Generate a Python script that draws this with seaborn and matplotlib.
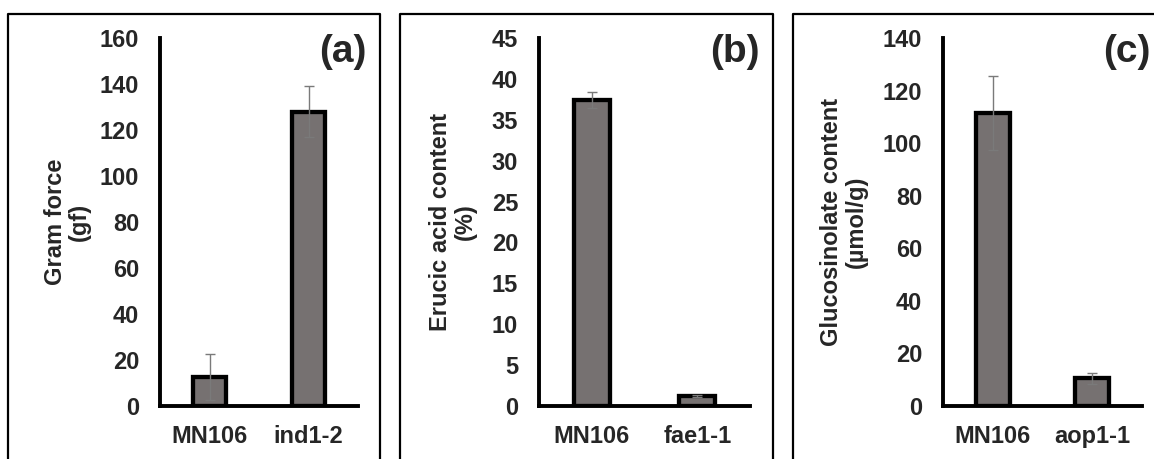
import pandas as pd
import matplotlib.pyplot as plt
import seaborn as sns
from matplotlib.lines import Line2D

sns.set_theme(style="white")
plt.rcParams['font.family'] = ['Liberation Sans', 'DejaVu Sans']

# data
lines_a = ["MN106", "ind1-2"]
force_gf = [12.5, 128.0]
force_err = [10.0, 11.0]

lines_b = ["MN106", "fae1-1"]
erucic_pct = [37.4, 1.2]
erucic_err = [1.0, 0.1]

lines_c = ["MN106", "aop1-1"]
gluc_umol = [111.5, 10.5]
gluc_err = [14.0, 2.2]

panels = [
    dict(names=lines_a, vals=force_gf, err=force_err, ylim=160, step=20,
         ylabel="Gram force\n(gf)", tag="(a)", ax_px=(160, 358), box_px=(8, 380), lpad=6),
    dict(names=lines_b, vals=erucic_pct, err=erucic_err, ylim=45, step=5,
         ylabel="Erucic acid content\n(%)", tag="(b)", ax_px=(539, 750), box_px=(400, 773), lpad=11),
    dict(names=lines_c, vals=gluc_umol, err=gluc_err, ylim=140, step=20,
         ylabel="Glucosinolate content\n(\u00b5mol/g)", tag="(c)", ax_px=(943, 1142), box_px=(793, 1170), lpad=11),
]

W, H = 1154, 459
fig = plt.figure(figsize=(W / 100, H / 100), dpi=100)

bar_color = "#767171"
fs = 17
for p in panels:
    x0, x1 = p['ax_px']
    ax = fig.add_axes([x0 / W, 1 - 406 / H, (x1 - x0) / W, (406 - 38) / H])
    df = pd.DataFrame({'line': p['names'], 'value': p['vals']})
    sns.barplot(data=df, x='line', y='value', ax=ax, color=bar_color, width=0.34,
                edgecolor='black', linewidth=3.1, saturation=1, errorbar=None)
    ax.errorbar(range(len(p['vals'])), p['vals'], yerr=p['err'], fmt='none',
                ecolor='#7a7a7a', elinewidth=1.0, capsize=3.5, capthick=1.0, zorder=5)
    ax.set_xlim(-0.5, 1.5)
    ax.set_ylim(0, p['ylim'])
    ax.set_yticks(range(0, p['ylim'] + 1, p['step']))
    ax.tick_params(axis='both', length=0, labelsize=fs)
    ax.tick_params(axis='x', pad=14)
    ax.tick_params(axis='y', pad=15)
    for lbl in ax.get_xticklabels() + ax.get_yticklabels():
        lbl.set_fontweight('bold')
    ax.set_xlabel("")
    ax.set_ylabel(p['ylabel'], fontsize=fs, fontweight='bold', linespacing=1.1, labelpad=p['lpad'])
    sns.despine(ax=ax)
    for side in ['left', 'bottom']:
        ax.spines[side].set_linewidth(2.8)
        ax.spines[side].set_color('black')
    ax.patch.set_alpha(0)
    ax.text(1.045, 0.962, p['tag'], transform=ax.transAxes, ha='right', va='center',
            fontsize=28, fontweight='bold')

    # panel frame (open at the bottom)
    bx0, bx1 = p['box_px']
    xs = [bx0 / W, bx0 / W, bx1 / W, bx1 / W]
    ys = [0, 1 - 13.5 / H, 1 - 13.5 / H, 0]
    fig.add_artist(Line2D(xs, ys, color='black', linewidth=1.6))

plt.savefig("out.png", dpi=100)
